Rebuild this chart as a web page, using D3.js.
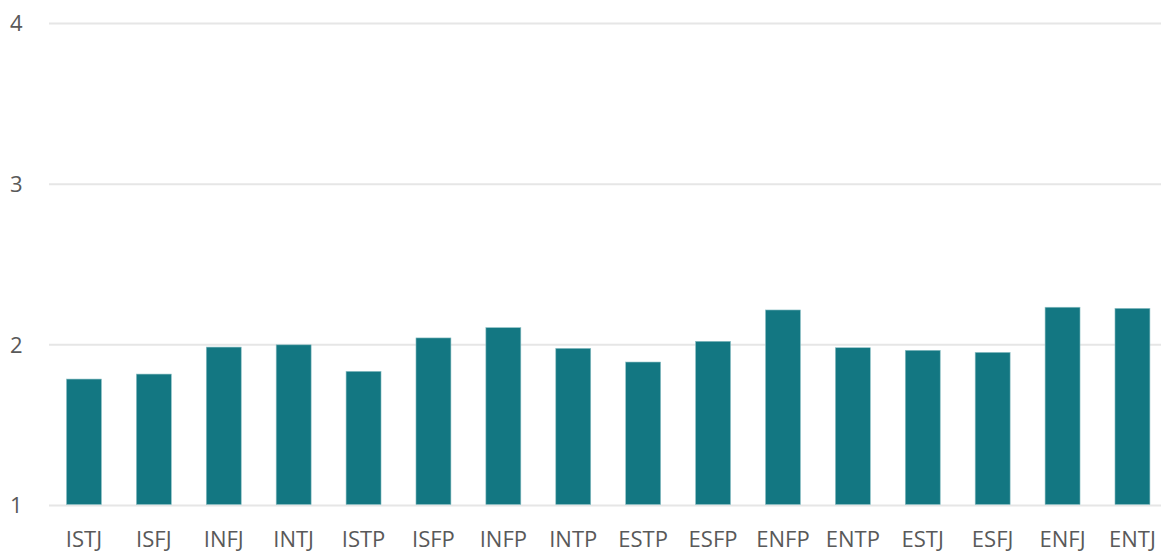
<!DOCTYPE html>
<html>
<head>
<meta charset="utf-8">
<script src="https://cdn.jsdelivr.net/npm/d3@7"></script>
<style>
  body { margin: 0; background: #fff; }
  text { font-family: "Open Sans", sans-serif; }
</style>
</head>
<body>
<div id="chart"></div>
<script>
// personality types and their values
var types = ["ISTJ", "ISFJ", "INFJ", "INTJ", "ISTP", "ISFP", "INFP", "INTP",
             "ESTP", "ESFP", "ENFP", "ENTP", "ESTJ", "ESFJ", "ENFJ", "ENTJ"];
var values = [1.787, 1.818, 1.986, 2.0, 1.835, 2.043, 2.107, 1.978,
              1.893, 2.022, 2.217, 1.982, 1.966, 1.953, 2.234, 2.227];
var yTicks = [1, 2, 3, 4];

var width = 1161, height = 553;
var margin = {top: 23.5, right: 0, bottom: 47.5, left: 49};

var svg = d3.select("#chart").append("svg")
    .attr("width", width).attr("height", height);

var x = d3.scaleBand()
    .domain(types)
    .range([margin.left, margin.left + 16 * 69.9])
    .paddingInner(0.5).paddingOuter(0.25);

var y = d3.scaleLinear()
    .domain([1, 4])
    .range([height - margin.bottom, margin.top]);

// gridlines
svg.append("g").selectAll("line")
    .data(yTicks)
    .enter().append("line")
    .attr("x1", margin.left).attr("x2", width)
    .attr("y1", function(d) { return y(d); })
    .attr("y2", function(d) { return y(d); })
    .attr("stroke", "#e6e6e6")
    .attr("stroke-width", 2);

// y labels
svg.append("g").selectAll("text")
    .data(yTicks)
    .enter().append("text")
    .attr("x", 10)
    .attr("y", function(d) { return y(d); })
    .attr("dy", "0.35em")
    .attr("font-size", 22)
    .attr("fill", "#595959")
    .text(function(d) { return d; });

// bars
svg.append("g").selectAll("rect")
    .data(values)
    .enter().append("rect")
    .attr("x", function(d, i) { return x(types[i]); })
    .attr("width", x.bandwidth())
    .attr("y", function(d) { return y(d); })
    .attr("height", function(d) { return y(1) - y(d) - 1; })
    .attr("fill", "#137782")
    .attr("stroke", "#8ec0c5")
    .attr("stroke-width", 0.6);

// x labels
svg.append("g").selectAll("text")
    .data(types)
    .enter().append("text")
    .attr("x", function(d) { return x(d) + x.bandwidth() / 2; })
    .attr("y", 547)
    .attr("text-anchor", "middle")
    .attr("font-size", 22)
    .attr("fill", "#595959")
    .text(function(d) { return d; });
</script>
</body>
</html>
